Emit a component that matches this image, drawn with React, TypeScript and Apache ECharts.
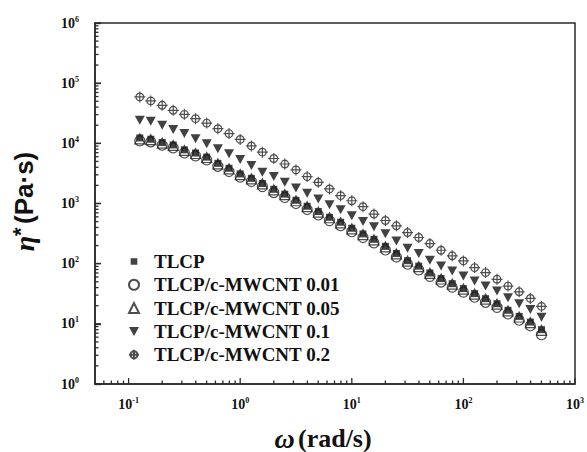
import React, { useEffect, useRef } from 'react';
import * as echarts from 'echarts';

// angular frequency, rad/s
const OMEGA = [0.126, 0.158, 0.2, 0.251, 0.316, 0.398, 0.501, 0.631, 0.794, 1.0, 1.26, 1.58, 2.0, 2.51, 3.16, 3.98, 5.01, 6.31, 7.94, 10.0, 12.6, 15.8, 20.0, 25.1, 31.6, 39.8, 50.1, 63.1, 79.4, 100, 126, 158, 200, 251, 316, 398, 501];

// complex viscosity, Pa·s
const ETA_TLCP = [12300, 11700, 10300, 9400, 7800, 6900, 5900, 4650, 3850, 3100, 2620, 2150, 1720, 1430, 1130, 900, 735, 590, 488, 388, 312, 254, 194, 148, 112, 91, 70, 56.5, 46.5, 38.5, 31.8, 26.2, 21.6, 16.8, 13.3, 10.7, 8.0];
const ETA_001 = [11000, 10600, 9300, 8400, 6950, 6200, 5300, 4150, 3400, 2750, 2320, 1910, 1520, 1260, 1000, 795, 645, 520, 428, 340, 272, 222, 169, 129, 98, 79, 61.5, 49.5, 40.7, 33.6, 27.7, 22.8, 18.8, 14.6, 11.5, 9.3, 6.6];
const ETA_005 = [11900, 11500, 10100, 9220, 7610, 6780, 5820, 4560, 3760, 3030, 2570, 2120, 1680, 1400, 1110, 885, 721, 580, 478, 380, 305, 249, 190, 145, 110, 89, 69, 55.6, 45.8, 37.8, 31.2, 25.7, 21.2, 16.4, 13.0, 10.5, 7.8];
const ETA_01 = [24100, 23200, 19900, 16900, 14500, 11900, 9840, 8130, 6700, 5380, 4280, 3300, 2800, 2250, 1815, 1475, 1190, 955, 788, 625, 502, 410, 313, 239, 181, 147, 114, 91.6, 75.5, 62.4, 51.4, 42.4, 35.0, 27.1, 21.5, 17.3, 12.9];
const ETA_02 = [59000, 50700, 42900, 35400, 30300, 25700, 21700, 17500, 14500, 11600, 9050, 7130, 5600, 4530, 3620, 2800, 2250, 1745, 1350, 1110, 885, 668, 522, 426, 329, 272, 216, 167, 135, 111, 86, 71, 55, 42.4, 34.1, 26.4, 19.5];

const SERIES_NAMES = ['TLCP', 'TLCP/c-MWCNT 0.01', 'TLCP/c-MWCNT 0.05', 'TLCP/c-MWCNT 0.1', 'TLCP/c-MWCNT 0.2'];

const X_MAJOR = [0.1, 1, 10, 100, 1000];
const Y_MAJOR = [1, 10, 100, 1000, 10000, 100000, 1000000];
const MINOR_STEPS = [2, 3, 4, 5, 6, 7, 8, 9];
const X_MINOR_EXTRA = [0.06, 0.07, 0.08, 0.09];

const X_MIN = 0.05;
const X_MAX = 1000;
const Y_MIN = 1;
const Y_MAX = 1000000;

const SERIF = "'Liberation Serif', 'Times New Roman', serif";
const SANS = "'Liberation Sans', Arial, sans-serif";
const AXIS_COLOR = '#2a2a2a';
const MAJOR_LEN = 6;
const MINOR_LEN = 3.5;
const TICK_W = 1.3;

const minorOf = (decades: number[]) => {
  const out: number[] = [];
  decades.forEach((d) => MINOR_STEPS.forEach((m) => out.push(+(d * m).toPrecision(6))));
  return out;
};

const X_MINOR = [...X_MINOR_EXTRA, ...minorOf(X_MAJOR.slice(0, -1))];
const Y_MINOR = minorOf(Y_MAJOR.slice(0, -1));

const powLabel = (v: number) => `{b|10}{s|${Math.round(Math.log10(v))}}`;

const labelRich = {
  b: { fontFamily: SERIF, fontWeight: 'bold', fontSize: 14, color: '#111', lineHeight: 16 },
  s: { fontFamily: SERIF, fontWeight: 'bold', fontSize: 8, color: '#111', padding: [0, 0, 8, 0] },
};

const CROSS_PATH = 'path://M0,-10 L0,10 M-10,0 L10,0 M7,0 A7,7 0 1,1 -7,0 A7,7 0 1,1 7,0 Z';
const DOWN_TRI = 'path://M0,0 L10,0 L5,9 Z';
const SQUARE_LEGEND = 'path://M-2,-2 L-2,-2.01 Z M0,0 L8,0 L8,8 L0,8 Z M10,10 L10,10.01 Z';

const mk = (vals: number[]) => OMEGA.map((w, i) => [w, vals[i]]);

export default function App() {
  const ref = useRef<HTMLDivElement>(null);
  useEffect(() => {
    document.body.style.margin = '0';
    const chart = echarts.init(ref.current!, null, { renderer: 'svg' });
    const open = { color: 'rgba(0,0,0,0)', borderColor: '#222', borderWidth: 1.2 };

    chart.setOption({
      animation: false,
      grid: { left: 95, right: 6, top: 23, bottom: 68 },
      legend: {
        orient: 'vertical',
        left: 128,
        top: 252,
        padding: 0,
        itemWidth: 10,
        itemHeight: 10,
        itemGap: 4.3,
        textStyle: { fontFamily: SERIF, fontWeight: 'bold', fontSize: 19, color: '#111', lineHeight: 19, padding: [0, 0, 0, 10] },
        data: [
          { name: SERIES_NAMES[0], icon: SQUARE_LEGEND },
          { name: SERIES_NAMES[1] },
          { name: SERIES_NAMES[2] },
          { name: SERIES_NAMES[3] },
          { name: SERIES_NAMES[4] },
        ],
      },
      xAxis: {
        type: 'log',
        min: X_MIN,
        max: X_MAX,
        position: 'bottom',
        axisLine: { show: true, lineStyle: { color: AXIS_COLOR, width: 1.5 } },
        axisTick: { show: false },
        axisLabel: { customValues: X_MAJOR, formatter: powLabel, rich: labelRich, margin: 12, align: 'center' },
        splitLine: { show: false },
      },
      yAxis: {
        type: 'log',
        min: Y_MIN,
        max: Y_MAX,
        position: 'left',
        axisLine: { show: true, lineStyle: { color: AXIS_COLOR, width: 1.5 } },
        axisTick: { show: true, inside: true, length: MAJOR_LEN, customValues: Y_MAJOR, lineStyle: { color: AXIS_COLOR, width: TICK_W } },
        axisLabel: { customValues: Y_MAJOR, formatter: powLabel, rich: labelRich, margin: 16, align: 'right' },
        splitLine: { show: false },
      },
      series: [
        { name: SERIES_NAMES[0], type: 'scatter', data: mk(ETA_TLCP), symbol: 'rect', symbolSize: 7, itemStyle: { color: '#111' } },
        { name: SERIES_NAMES[1], type: 'scatter', data: mk(ETA_001), symbol: 'circle', symbolSize: 10, itemStyle: open },
        { name: SERIES_NAMES[2], type: 'scatter', data: mk(ETA_005), symbol: 'triangle', symbolSize: 10, itemStyle: open },
        { name: SERIES_NAMES[3], type: 'scatter', data: mk(ETA_01), symbol: DOWN_TRI, symbolSize: [10, 9], itemStyle: { color: '#111' } },
        { name: SERIES_NAMES[4], type: 'scatter', data: mk(ETA_02), symbol: CROSS_PATH, symbolSize: 11, itemStyle: open },
      ],
    });

    // tick marks, frame and axis titles, placed through the axes' own scales
    const toPx = (x: number, y: number) => chart.convertToPixel({ gridIndex: 0 }, [x, y]) as unknown as number[];
    const seg = (x1: number, y1: number, x2: number, y2: number) => ({
      type: 'line',
      silent: true,
      z: 20,
      shape: { x1, y1, x2, y2 },
      style: { stroke: AXIS_COLOR, lineWidth: TICK_W },
    });
    const elems: any[] = [];
    X_MAJOR.forEach((v) => { const p = toPx(v, Y_MIN); elems.push(seg(p[0], p[1], p[0], p[1] - MAJOR_LEN)); });
    X_MINOR.forEach((v) => { const p = toPx(v, Y_MIN); elems.push(seg(p[0], p[1], p[0], p[1] - MINOR_LEN)); });
    Y_MAJOR.forEach((v) => { const p = toPx(X_MIN, v); elems.push(seg(p[0], p[1], p[0] + MAJOR_LEN, p[1])); });
    Y_MINOR.forEach((v) => { const p = toPx(X_MIN, v); elems.push(seg(p[0], p[1], p[0] + MINOR_LEN, p[1])); });

    const tl = toPx(X_MIN, Y_MAX);
    const br = toPx(X_MAX, Y_MIN);
    elems.push({
      type: 'rect',
      silent: true,
      z: 19,
      shape: { x: tl[0], y: tl[1], width: br[0] - tl[0], height: br[1] - tl[1] },
      style: { fill: 'none', stroke: AXIS_COLOR, lineWidth: 1.5 },
    });

    elems.push({
      type: 'text',
      silent: true,
      x: (tl[0] + br[0]) / 2 - 12,
      y: br[1] + 54,
      style: {
        text: '{w|ω} {t|(rad/s)}',
        align: 'center',
        verticalAlign: 'middle',
        rich: {
          w: { fontFamily: SERIF, fontStyle: 'italic', fontWeight: 'bold', fontSize: 28, fill: '#111' },
          t: { fontFamily: SERIF, fontWeight: 'bold', fontSize: 26, fill: '#111' },
        },
      },
    });
    elems.push({
      type: 'text',
      silent: true,
      x: 24,
      y: (tl[1] + br[1]) / 2 - 2,
      rotation: Math.PI / 2,
      style: {
        text: '{e|η}{a|*} {p|(Pa·s)}',
        align: 'center',
        verticalAlign: 'middle',
        rich: {
          e: { fontFamily: SERIF, fontStyle: 'italic', fontWeight: 'bold', fontSize: 28, fill: '#111' },
          a: { fontFamily: SANS, fontWeight: 'bold', fontSize: 22, fill: '#111', padding: [0, 0, 8, 0] },
          p: { fontFamily: SANS, fontWeight: 'bold', fontSize: 26, fill: '#111' },
        },
      },
    });

    chart.setOption({ graphic: elems });
    return () => chart.dispose();
  }, []);
  return <div ref={ref} style={{ width: 587, height: 452 }} />;
}
